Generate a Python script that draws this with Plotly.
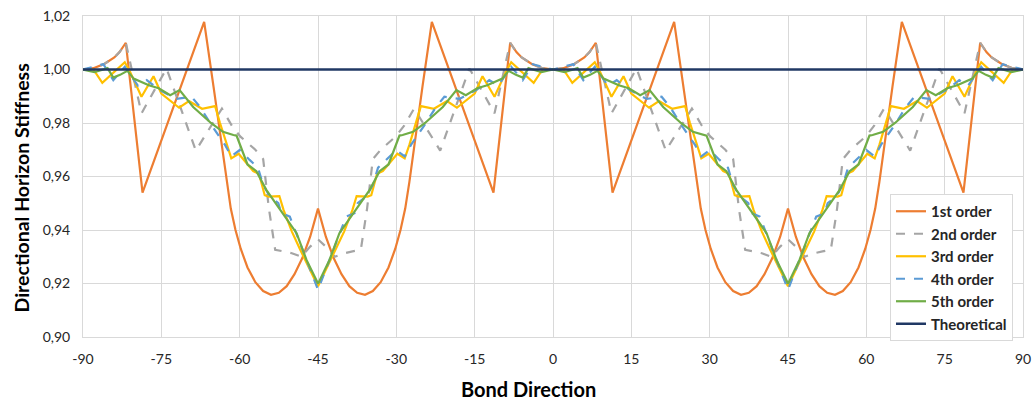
import plotly.graph_objects as go

# Values read for one half-period (0..45 deg). The chart is symmetric:
# every curve is even in the bond direction and repeats every 90 deg.
x_1st = [0, 2, 4, 6, 7, 8.2, 11.4, 23.2, 25.0, 26.5, 27.5, 28.3, 29.2, 30.2, 31.5,
         33.0, 34.5, 36.0, 37.5, 39.0, 40.5, 42.0, 43.5, 45]
y_1st = [1.000, 1.0005, 1.002, 1.0045, 1.0065, 1.0100, 0.9540, 1.0178, 0.9935, 0.9730,
         0.9580, 0.9480, 0.9400, 0.9330, 0.9260, 0.9205, 0.9172, 0.9158, 0.9165, 0.9190,
         0.9235, 0.9295, 0.9375, 0.9480]

x_2nd = [0, 2, 4, 6, 7, 8.2, 11.2, 16.0, 21.6, 26.6, 28.5, 30.1, 33.0, 34.5, 35.6,
         36.8, 38.4, 40.0, 41.8, 43.5, 45]
y_2nd = [1.000, 1.0005, 1.002, 1.0045, 1.0065, 1.0100, 0.9836, 1.0004, 0.9697, 0.9854,
         0.9790, 0.9750, 0.9700, 0.9665, 0.9480, 0.9326, 0.9320, 0.9313, 0.9300, 0.9338,
         0.9365]

x_3rd = [0, 2, 3.7, 8.0, 9.0, 11.2, 13.5, 15.0, 18.4, 20.3, 22.8, 25.3, 26.2, 27.5,
         28.4, 29.8, 32.6, 33.7, 34.8, 35.5, 37.6, 38.4, 40.0, 41.6, 43.5, 45]
y_3rd = [1.000, 1.000, 0.9950, 1.0027, 0.9992, 0.9898, 0.9975, 0.9910, 0.9857, 0.9882,
         0.9853, 0.9863, 0.9802, 0.9718, 0.9668, 0.9685, 0.9620, 0.9610, 0.9530, 0.9525,
         0.9527, 0.9475, 0.9394, 0.9326, 0.9251, 0.9190]

x_4th = [0, 3.9, 5.8, 8.0, 10.5, 12.2, 14.7, 17.9, 20.8, 22.4, 24.6, 27.2, 28.4, 30.0,
         31.9, 33.5, 34.5, 35.8, 37.4, 38.0, 39.6, 41.6, 42.8, 44.4, 45]
y_4th = [1.000, 1.0020, 0.9960, 1.0010, 0.9940, 0.9960, 0.9923, 0.9890, 0.9898, 0.9860,
         0.9792, 0.9718, 0.9675, 0.9699, 0.9662, 0.9633, 0.9568, 0.9525, 0.9500, 0.9463,
         0.9450, 0.9350, 0.9288, 0.9207, 0.9177]

x_5th = [0, 2.2, 4.7, 5.8, 7.1, 8.5, 9.7, 12.6, 14.5, 16.7, 18.5, 21.1, 24.5, 26.8,
         28.8, 29.4, 31.5, 33.2, 35.1, 37.4, 40.9, 42.8, 44.8, 45]
y_5th = [1.000, 0.9990, 1.0005, 0.9970, 0.9980, 0.9995, 0.9966, 0.9941, 0.9930, 0.9904,
         0.9923, 0.9860, 0.9800, 0.9767, 0.9755, 0.9753, 0.9645, 0.9620, 0.9550, 0.9487,
         0.9388, 0.9288, 0.9207, 0.9200]

x_theory = [-90, 90]
y_theory = [1.0, 1.0]

names = ["1st order", "2nd order", "3rd order", "4th order", "5th order", "Theoretical"]
colors = ["#ED7D31", "#A5A5A5", "#FFC000", "#5B9BD5", "#70AD47", "#203864"]
dashes = ["solid", "dash", "solid", "dash", "solid", "solid"]

x_ticks = [-90, -75, -60, -45, -30, -15, 0, 15, 30, 45, 60, 75, 90]
x_tick_text = ["-90", "-75", "-60", "-45", "-30", "-15", "0", "15", "30", "45", "60", "75", "90"]


def unfold(xs, ys):
    """Place the half-period readings over -90..90 using the chart's symmetry."""
    X = [-90 + v for v in xs] + [-v for v in xs[::-1]] + list(xs) + [90 - v for v in xs[::-1]]
    Y = list(ys) + list(ys[::-1]) + list(ys) + list(ys[::-1])
    return X, Y


series = [(x_1st, y_1st), (x_2nd, y_2nd), (x_3rd, y_3rd), (x_4th, y_4th), (x_5th, y_5th)]

fig = go.Figure()
for i, (xs, ys) in enumerate(series):
    X, Y = unfold(xs, ys)
    fig.add_trace(go.Scatter(x=X, y=Y, mode="lines", name=names[i],
                             line=dict(color=colors[i], width=2.2, dash=dashes[i])))
fig.add_trace(go.Scatter(x=x_theory, y=y_theory, mode="lines", name=names[5],
                         line=dict(color=colors[5], width=2.5)))

FONT = "Lato, 'Open Sans', sans-serif"
grid = "#D9D9D9"
L, R, T, B = 83, 11, 16, 64
W, H = 1034, 401
pw, ph = W - L - R, H - T - B

fig.update_layout(
    width=W, height=H,
    margin=dict(l=L, r=R, t=T, b=B),
    paper_bgcolor="white", plot_bgcolor="white",
    separators=",.",
    font=dict(family=FONT, size=14, color="#262626"),
    legend=dict(x=(890 - L) / pw, y=(H - B - 194) / ph, xanchor="left", yanchor="top",
                bgcolor="white", bordercolor=grid, borderwidth=1,
                font=dict(family=FONT, size=15, color="#262626", weight="bold"),
                itemwidth=30, tracegroupgap=0),
    xaxis=dict(range=[-90, 90], tickvals=x_ticks, ticktext=x_tick_text,
               showgrid=True, gridcolor=grid, gridwidth=1, zeroline=False,
               showline=True, linecolor=grid, mirror=True, ticks="",
               ticklabelstandoff=9, automargin=False,
               tickfont=dict(size=14, color="#262626")),
    yaxis=dict(range=[0.90, 1.02], dtick=0.02, tick0=0.90, tickformat=".2f",
               showgrid=True, gridcolor=grid, gridwidth=1, zeroline=False,
               showline=True, linecolor=grid, mirror=True, ticks="",
               ticklabelstandoff=9, automargin=False,
               tickfont=dict(size=14, color="#262626")),
    annotations=[
        dict(text="<b>Bond Direction</b>", xref="paper", yref="paper",
             x=(528 - L) / pw, y=(H - B - 389) / ph, xanchor="center", yanchor="middle",
             showarrow=False, font=dict(family=FONT, size=20, color="#000000")),
        dict(text="<b>Directional Horizon Stiffness</b>", xref="paper", yref="paper",
             x=(21 - L) / pw, y=(H - B - 188.5) / ph, xanchor="center", yanchor="middle",
             textangle=-90, showarrow=False,
             font=dict(family=FONT, size=19.5, color="#000000")),
    ],
)

fig.write_html("out.html",
               config={"displayModeBar": False},
               post_script="document.body.style.margin='0px';document.body.style.overflow='hidden';")
